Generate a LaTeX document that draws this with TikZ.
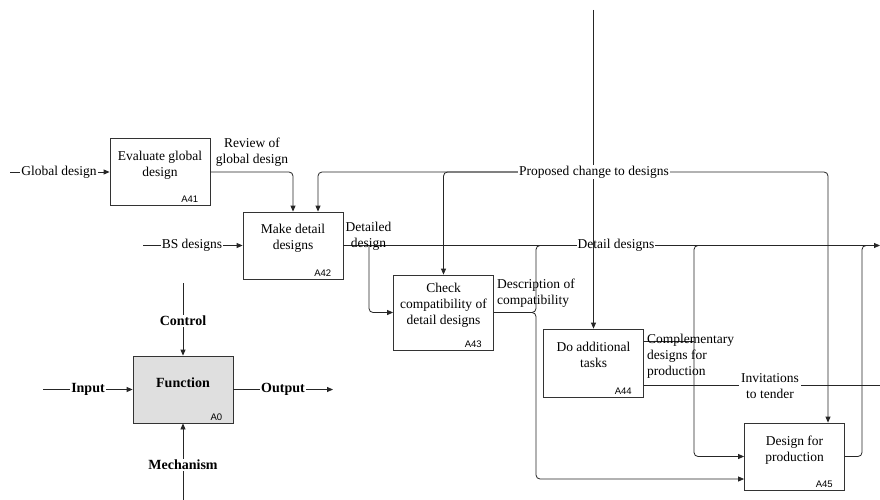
\documentclass[tikz,border=0pt]{standalone}
\usepackage{fontspec}
\setmainfont{Liberation Serif}
\newfontfamily\idfont{Liberation Sans}
\usetikzlibrary{arrows.meta,calc}

\tikzset{
  flow/.style={draw=black!85, line width=0.8pt},
  arr/.style={flow, -{Triangle[length=6pt,width=5pt]}},
  rc/.style={rounded corners=4pt},
  actbox/.style={draw=black!80, line width=0.8pt, fill=white, minimum width=100pt, minimum height=67pt, inner sep=0pt},
  acttext/.style={align=center, font=\fontsize{13.5}{16}\selectfont, inner sep=0pt},
  actid/.style={anchor=south east, inner sep=0pt, font=\idfont\fontsize{9.5}{10}\selectfont},
  lbl/.style={font=\fontsize{13.5}{16}\selectfont, inner sep=1pt},
  gaplbl/.style={lbl, fill=white},
  keylbl/.style={font=\bfseries\fontsize{14}{16}\selectfont, fill=white, inner sep=1pt},
}

\begin{document}
\begin{tikzpicture}[x=1pt,y=-1pt]
\useasboundingbox[fill=white] (0,0) rectangle (880,500);

% activity boxes
\node[actbox] (a41) at (160,172) {};
\node[actbox] (a42) at (293,245.5) {};
\node[actbox, minimum height=75pt] (a43) at (443.5,312.5) {};
\node[actbox, minimum height=68pt] (a44) at (593.5,363) {};
\node[actbox] (a45) at (794.5,456.5) {};
\node[actbox, fill=gray!25] (a0) at (183,389.5) {};

\node[acttext] (t41) at ($(a41.center)+(0,-7)$) {Evaluate global\\design};
\node[acttext] (t42) at ($(a42.center)+(0,-7)$) {Make detail\\designs};
\node[acttext] (t43) at ($(a43.center)+(0,-7.5)$) {Check\\compatibility of\\detail designs};
\node[acttext] (t44) at ($(a44.center)+(0,-8)$) {Do additional\\tasks};
\node[acttext] (t45) at ($(a45.center)+(0,-6.5)$) {Design for\\production};
\node[acttext, font=\bfseries\fontsize{14}{16}\selectfont] (t0) at ($(a0.center)+(0,-6.5)$) {Function};

\node[actid] (id41) at ($(a41.south east)+(-12,-3)$) {A41};
\node[actid] (id42) at ($(a42.south east)+(-12,-3)$) {A42};
\node[actid] (id43) at ($(a43.south east)+(-12,-3)$) {A43};
\node[actid] (id44) at ($(a44.south east)+(-12,-3)$) {A44};
\node[actid] (id45) at ($(a45.south east)+(-12,-3)$) {A45};
\node[actid] (id0) at ($(a0.south east)+(-11,-3)$) {A0};

% main output line of detail designs
\coordinate (ddout) at (880,245.5);
\draw[arr] (a42.east) -- (ddout);
\node[gaplbl] (ldd) at (616,245.5) {Detail designs};
\node[lbl, align=center] (ldet) at (368.5,236.5) {Detailed\\design};

% inputs of A41 and A42
\coordinate (gdin) at (10,172);
\draw[arr] (gdin) -- (a41.west);
\node[gaplbl] (lgd) at (59,172) {Global design};

\coordinate (bsin) at (143,245.5);
\draw[arr] (bsin) -- (a42.west);
\node[gaplbl] (lbs) at (192,245.5) {BS designs};

% review of global design
\draw[arr,rc] (a41.east) -| (a42.north);
\node[lbl, align=center] (lrev) at (252,152) {Review of\\global design};

% detailed design into A43
\coordinate (j1) at (369,245.5);
\draw[arr,rc] (j1) |- (a43.west);

% detail designs and compatibility description into A45
\coordinate (j2) at (546,245.5);
\draw[flow,rc] (j2) -- (536,245.5) -- (536,312.5) -- (530,312.5);
\draw[arr,rc] (a43.east) -- (536,312.5) |- ($(a45.west)+(0,22.5)$);
\node[lbl, align=left, anchor=west] (ldesc) at (496,293) {Description of\\compatibility};

\coordinate (j3) at (704,245.5);
\draw[arr,rc] (j3) -- (694,245.5) |- (a45.west);

% outputs of A44
\draw[flow] ($(a44.east)+(0,-22)$) -- (694,341);
\node[lbl, align=left, anchor=west] (lcomp) at (646,356) {Complementary\\designs for\\production};

\coordinate (itout) at (880,385);
\draw[flow] ($(a44.east)+(0,22)$) -- (itout);
\node[gaplbl, align=center, inner sep=2pt] (linv) at (770,386) {Invitations\\to tender};

% output of A45 joins the main line
\coordinate (j4) at (872,245.5);
\draw[flow,rc] (a45.east) -| (862,245.5) -- (j4);

% proposed change to designs
\coordinate (ctop) at (593.5,10);
\draw[arr] (ctop) -- (a44.north);
\coordinate (pj) at (593.5,172);
\draw[arr,rc] (pj) -| ($(a42.north)+(25,0)$);
\draw[arr,rc] (pj) -| (a43.north);
\draw[arr,rc] (pj) -| ($(a45.north)+(33.5,0)$);
\node[gaplbl] (lprop) at (594,172) {Proposed change to designs};

% key
\coordinate (kc) at (183,283);
\draw[arr] (kc) -- (a0.north);
\node[keylbl] (lc) at (183,321) {Control};
\coordinate (ki) at (43,389.5);
\draw[arr] (ki) -- (a0.west);
\node[keylbl] (li) at (88,389.5) {Input};
\coordinate (ko) at (333,389.5);
\draw[arr] (a0.east) -- (ko);
\node[keylbl] (lo) at (283,389.5) {Output};
\coordinate (km) at (183,500);
\draw[arr] (km) -- (a0.south);
\node[keylbl] (lm) at (183,465) {Mechanism};
\end{tikzpicture}
\end{document}
